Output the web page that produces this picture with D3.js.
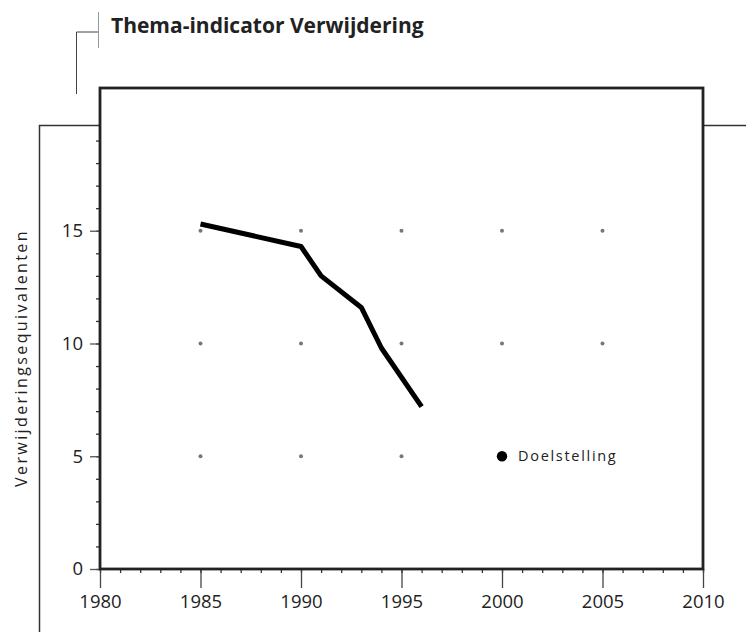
<!DOCTYPE html>
<html>
<head>
<meta charset="utf-8">
<script src="https://cdn.jsdelivr.net/npm/d3@7"></script>
<style>
  body { margin: 0; background: #fff; }
  svg { display: block; font-family: "Open Sans", sans-serif; }
</style>
</head>
<body>
<svg id="chart" width="746" height="632"></svg>
<script>
// data
const years = [1985, 1990, 1991, 1993, 1994, 1996];
const values = [15.3, 14.3, 13.0, 11.6, 9.8, 7.2];
const xTicks = [1980, 1985, 1990, 1995, 2000, 2005, 2010];
const yTicks = [0, 5, 10, 15];
const gridYears = [1985, 1990, 1995, 2000, 2005];
const gridLevels = [15, 10, 5];
const targetYear = 2000;
const targetValue = 5;

const svg = d3.select('#chart');
const margin = { top: 88, right: 43, bottom: 63, left: 100 };
const width = 746, height = 632;

const x = d3.scaleLinear().domain([1980, 2010]).range([margin.left, width - margin.right]);
const y = d3.scaleLinear().domain([0, 21.33]).range([height - margin.bottom, margin.top]);

// decorative frame lines
const deco = svg.append('g').attr('fill', 'none');
deco.append('line').attr('x1', 98.5).attr('x2', 98.5).attr('y1', 12).attr('y2', 48)
    .attr('stroke', '#999').attr('stroke-width', 1);
deco.append('polyline').attr('points', '98,32 76.5,32 76.5,94')
    .attr('stroke', '#444').attr('stroke-width', 1);
deco.append('polyline').attr('points', `${x(1980)},125.5 39.5,125.5 39.5,632`)
    .attr('stroke', '#333').attr('stroke-width', 1.5);
deco.append('line').attr('x1', x(2010)).attr('x2', width).attr('y1', 125.5).attr('y2', 125.5)
    .attr('stroke', '#333').attr('stroke-width', 1.5);

// title
svg.append('text')
    .attr('x', 111).attr('y', 33)
    .attr('font-size', 21).attr('font-weight', 700).attr('fill', '#222')
    .text('Thema-indicator Verwijdering');

// grid dots
const gridPts = [];
gridLevels.forEach(v => gridYears.forEach(yr => {
    if (!(v === targetValue && yr >= targetYear)) gridPts.push({ yr, v });
}));
svg.append('g').selectAll('circle').data(gridPts).join('circle')
    .attr('cx', d => x(d.yr)).attr('cy', d => y(d.v)).attr('r', 2)
    .attr('fill', '#777');

// axes: minor ticks
const minorX = d3.range(1980, 2011);
const minorY = d3.range(0, 20);
const y0 = y(0);

svg.append('g').attr('transform', `translate(0,${y0})`)
    .call(d3.axisBottom(x).tickValues(minorX).tickSize(4).tickFormat(''))
    .call(g => g.select('.domain').remove())
    .call(g => g.selectAll('line').attr('stroke', '#333').attr('stroke-width', 1.3));

svg.append('g').attr('transform', `translate(${x(1980)},0)`)
    .call(d3.axisLeft(y).tickValues(minorY).tickSize(4).tickFormat(''))
    .call(g => g.select('.domain').remove())
    .call(g => g.selectAll('line').attr('stroke', '#333').attr('stroke-width', 1.3));

// axes: major ticks with labels
svg.append('g').attr('transform', `translate(0,${y0})`)
    .call(d3.axisBottom(x).tickValues(xTicks).tickSize(19).tickFormat(d3.format('d')))
    .call(g => g.select('.domain').remove())
    .call(g => g.selectAll('line').attr('stroke', '#444').attr('stroke-width', 1.3))
    .call(g => g.selectAll('text').attr('y', 39).attr('dy', null)
        .attr('font-size', 18.5).attr('fill', '#222').attr('font-family', '"Open Sans", sans-serif'));

svg.append('g').attr('transform', `translate(${x(1980)},0)`)
    .call(d3.axisLeft(y).tickValues(yTicks).tickSize(10).tickPadding(7))
    .call(g => g.select('.domain').remove())
    .call(g => g.selectAll('line').attr('stroke', '#555').attr('stroke-width', 1.3))
    .call(g => g.selectAll('text').attr('font-size', 18.5).attr('fill', '#222')
        .attr('font-family', '"Open Sans", sans-serif'));

// plot frame
svg.append('rect')
    .attr('x', x(1980)).attr('y', y(21.33))
    .attr('width', x(2010) - x(1980)).attr('height', y(0) - y(21.33))
    .attr('fill', 'none').attr('stroke', '#222').attr('stroke-width', 2.8);

// y label
svg.append('text')
    .attr('transform', 'translate(27,358) rotate(-90)')
    .attr('text-anchor', 'middle')
    .attr('font-size', 16).attr('letter-spacing', 2.4).attr('fill', '#222')
    .text('Verwijderingsequivalenten');

// series line
const line = d3.line().x(d => x(d[0])).y(d => y(d[1]));
svg.append('path')
    .datum(years.map((yr, i) => [yr, values[i]]))
    .attr('d', line)
    .attr('fill', 'none').attr('stroke', '#000').attr('stroke-width', 5)
    .attr('stroke-linejoin', 'round').attr('stroke-linecap', 'butt');

// target marker
svg.append('circle')
    .attr('cx', x(targetYear)).attr('cy', y(targetValue)).attr('r', 5.2).attr('fill', '#000');
svg.append('text')
    .attr('x', x(targetYear) + 16).attr('y', y(targetValue) + 4.5)
    .attr('font-size', 14.5).attr('letter-spacing', 1.7).attr('fill', '#222')
    .text('Doelstelling');
</script>
</body>
</html>
